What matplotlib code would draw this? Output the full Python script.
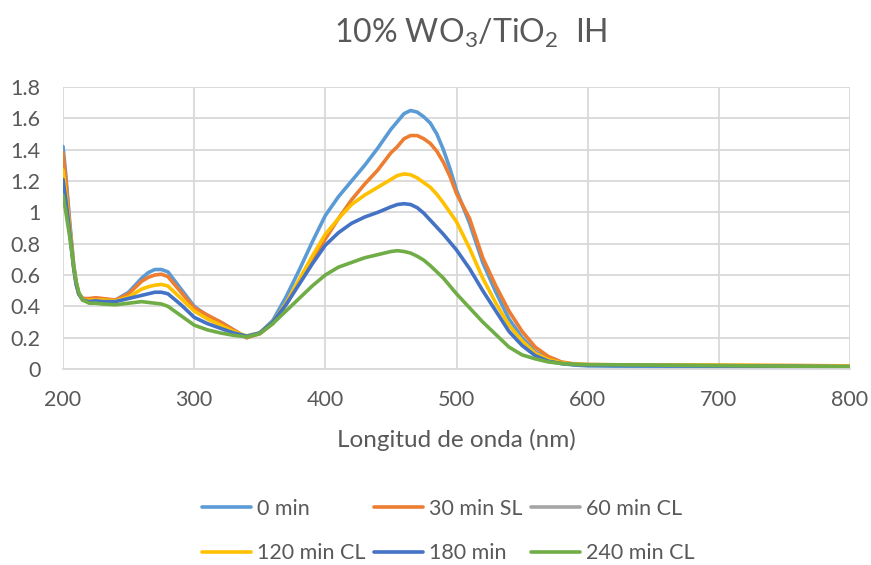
import matplotlib
matplotlib.use("Agg")
import matplotlib.pyplot as plt
from matplotlib.ticker import FuncFormatter

plt.rcParams['font.family'] = ['Lato', 'DejaVu Sans']
plt.rcParams['mathtext.fontset'] = 'custom'
plt.rcParams['mathtext.rm'] = 'Lato'
plt.rcParams['mathtext.it'] = 'Lato:italic'

# wavelength (nm) and absorbance
wavelength = [200, 202, 205, 208, 210, 212, 215, 220, 225, 230, 240, 250, 260, 265, 270,
              275, 280, 290, 300, 310, 320, 330, 340, 350, 360, 370, 380, 390, 400, 410,
              420, 430, 440, 450, 455, 460, 465, 470, 475, 480, 485, 490, 495, 500, 510,
              520, 530, 540, 550, 560, 570, 580, 590, 600, 650, 700, 750, 800]

abs_0min = [1.42, 1.25, 0.95, 0.68, 0.55, 0.48, 0.45, 0.445, 0.45, 0.445, 0.44, 0.49, 0.58, 0.615, 0.635,
            0.635, 0.62, 0.51, 0.40, 0.34, 0.30, 0.25, 0.20, 0.23, 0.31, 0.46, 0.63, 0.81, 0.98, 1.10,
            1.20, 1.30, 1.41, 1.53, 1.58, 1.63, 1.65, 1.64, 1.61, 1.57, 1.50, 1.40, 1.28, 1.14, 0.93,
            0.68, 0.49, 0.32, 0.20, 0.11, 0.06, 0.035, 0.025, 0.02, 0.015, 0.012, 0.011, 0.01]
abs_30min_sl = [1.38, 1.22, 0.93, 0.67, 0.55, 0.48, 0.45, 0.45, 0.455, 0.45, 0.44, 0.48, 0.56, 0.585, 0.60,
                0.605, 0.59, 0.49, 0.39, 0.345, 0.30, 0.25, 0.20, 0.225, 0.29, 0.41, 0.55, 0.69, 0.83, 0.96,
                1.08, 1.18, 1.27, 1.38, 1.42, 1.47, 1.49, 1.49, 1.47, 1.44, 1.39, 1.32, 1.23, 1.12, 0.96,
                0.71, 0.53, 0.37, 0.24, 0.14, 0.08, 0.045, 0.032, 0.028, 0.025, 0.024, 0.022, 0.02]
abs_60min_cl = []  # listed in legend, no visible curve
abs_120min_cl = [1.27, 1.13, 0.90, 0.66, 0.55, 0.48, 0.44, 0.44, 0.44, 0.44, 0.435, 0.46, 0.51, 0.525, 0.535,
                 0.54, 0.53, 0.45, 0.37, 0.32, 0.28, 0.24, 0.21, 0.23, 0.30, 0.42, 0.57, 0.72, 0.86, 0.96,
                 1.05, 1.11, 1.16, 1.21, 1.235, 1.245, 1.24, 1.22, 1.19, 1.16, 1.115, 1.06, 1.00, 0.94, 0.77,
                 0.58, 0.42, 0.28, 0.18, 0.10, 0.06, 0.04, 0.03, 0.028, 0.025, 0.024, 0.022, 0.02]
abs_180min = [1.21, 1.09, 0.88, 0.65, 0.54, 0.48, 0.44, 0.43, 0.435, 0.43, 0.43, 0.45, 0.47, 0.48, 0.49,
              0.49, 0.48, 0.41, 0.33, 0.29, 0.26, 0.23, 0.21, 0.23, 0.30, 0.41, 0.54, 0.67, 0.79, 0.87,
              0.93, 0.97, 1.00, 1.035, 1.05, 1.055, 1.05, 1.03, 0.995, 0.95, 0.905, 0.86, 0.81, 0.76, 0.64,
              0.50, 0.37, 0.24, 0.15, 0.085, 0.05, 0.035, 0.028, 0.025, 0.022, 0.02, 0.018, 0.015]
abs_240min_cl = [1.11, 1.01, 0.85, 0.66, 0.56, 0.49, 0.44, 0.42, 0.42, 0.415, 0.41, 0.42, 0.43, 0.425, 0.42,
                 0.415, 0.40, 0.34, 0.28, 0.25, 0.23, 0.215, 0.205, 0.225, 0.29, 0.37, 0.45, 0.53, 0.60, 0.65,
                 0.68, 0.71, 0.73, 0.75, 0.755, 0.75, 0.74, 0.72, 0.695, 0.66, 0.62, 0.58, 0.53, 0.48, 0.39,
                 0.30, 0.22, 0.14, 0.09, 0.065, 0.045, 0.035, 0.03, 0.028, 0.025, 0.022, 0.018, 0.015]

labels = ["0 min", "30 min SL", "60 min CL", "120 min CL", "180 min", "240 min CL"]
colors = ["#5B9BD5", "#ED7D31", "#A5A5A5", "#FFC000", "#4472C4", "#70AD47"]
series = [abs_0min, abs_30min_sl, abs_60min_cl, abs_120min_cl, abs_180min, abs_240min_cl]

fig = plt.figure(figsize=(8.71, 5.65), dpi=100)
ax = fig.add_axes([63 / 871, 1 - 369 / 565, (850 - 63) / 871, (369 - 87) / 565])

handles = []
for ys, lab, col in zip(series, labels, colors):
    xs = wavelength if len(ys) else []
    ln, = ax.plot(xs, ys, color=col, lw=2.6, label=lab,
                  solid_capstyle='round', solid_joinstyle='round')
    handles.append(ln)

ax.set_xlim(200, 800)
ax.set_ylim(0, 1.8)
ax.set_xticks(range(200, 801, 100))
ax.set_yticks([i * 0.2 for i in range(10)])
ax.yaxis.set_major_formatter(FuncFormatter(lambda v, p: f"{v:g}"))
ax.grid(True, color="#D9D9D9", lw=1.3)
ax.set_axisbelow(True)
for s in ["top", "right", "left"]:
    ax.spines[s].set_visible(False)
ax.spines["bottom"].set_color("#D9D9D9")
ax.spines["bottom"].set_linewidth(1.3)
ax.tick_params(length=0, labelsize=15.5, labelcolor="#595959")
ax.tick_params(axis="y", pad=16)
ax.tick_params(axis="x", pad=15)
ax.set_xlabel("Longitud de onda (nm)", fontsize=17.5, color="#595959", labelpad=14)

fig.text(471 / 871, 1 - 33 / 565, r"10% WO$_\mathrm{3}$/TiO$_\mathrm{2}$  IH",
         ha="center", va="center", fontsize=23, color="#595959")

order = [0, 3, 1, 4, 2, 5]
leg = fig.legend([handles[i] for i in order], [labels[i] for i in order],
                 ncol=3, loc="center", bbox_to_anchor=(448 / 871, 1 - 531 / 565),
                 frameon=False, fontsize=15.5, handlelength=2.3, handletextpad=0.25,
                 columnspacing=0.4, labelspacing=1.15, borderpad=0.2)
for t in leg.get_texts():
    t.set_color("#595959")

fig.savefig("out.png", dpi=100)
